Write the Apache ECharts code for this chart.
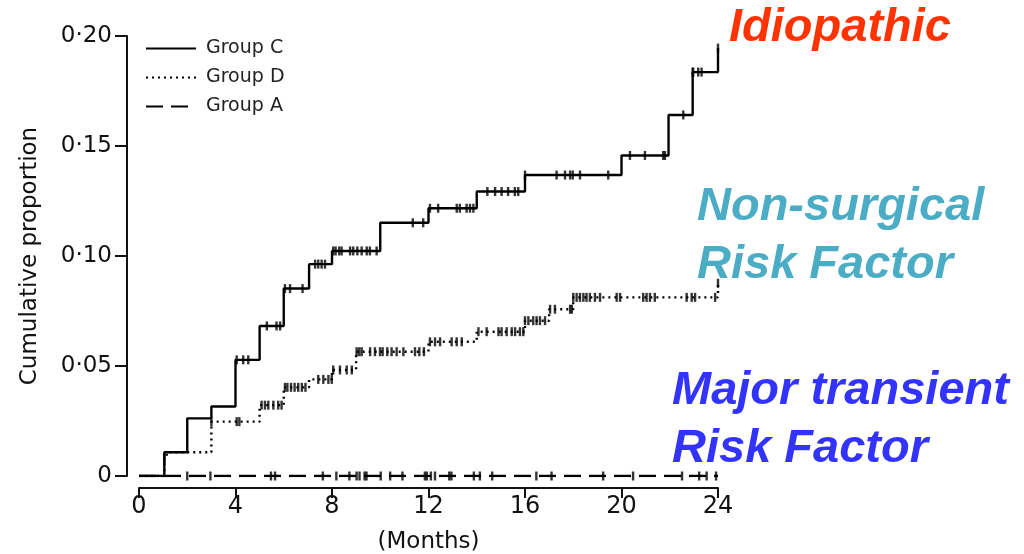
<!DOCTYPE html>
<html>
<head>
<meta charset="utf-8">
<script src="https://cdn.jsdelivr.net/npm/echarts@6/dist/echarts.min.js"></script>
<style>html,body{margin:0;padding:0;background:#fff}#c{width:1024px;height:554px}</style>
</head>
<body>
<div id="c"></div>
<script>
// ---- Data ----
const xTicks = [0, 4, 8, 12, 16, 20, 24];
const yTicks = [0, 0.05, 0.10, 0.15, 0.20];

// Group C (solid) step times and cumulative proportions
const groupC_t = [0, 1.05, 2.0, 3.0, 4.0, 5.0, 6.0, 7.05, 8.0, 10.0, 12.0, 14.0, 16.0, 20.0, 21.95, 22.95, 24.0];
const groupC_v = [0, 0.0108, 0.0262, 0.0316, 0.0528, 0.0682, 0.0852, 0.0963, 0.1023, 0.1151, 0.1217, 0.1293, 0.1368, 0.1457, 0.1641, 0.1836, 0.1945];
// Group D (dotted)
const groupD_t = [0, 1.05, 1.15, 3.0, 5.0, 6.0, 7.05, 8.0, 9.0, 12.0, 14.0, 16.0, 17.0, 18.0, 24.0];
const groupD_v = [0, 0.0080, 0.0108, 0.0247, 0.0322, 0.0403, 0.0439, 0.0482, 0.0565, 0.0610, 0.0656, 0.0706, 0.0758, 0.0812, 0.0876];
// Group A (dashed)
const groupA_t = [0, 24];
const groupA_v = [0, 0];

// Censoring times
const censC = [4.05, 4.32, 4.53, 5.3, 5.7, 5.85, 6.05, 6.26, 6.78, 7.3, 7.43, 7.57, 7.71, 8.05, 8.15, 8.3, 8.4, 8.75, 8.88, 9.05, 9.23, 9.44, 9.57, 9.85, 11.35, 11.78, 12.06, 12.4, 13.17, 13.3, 13.58, 13.72, 13.86, 14.44, 14.76, 15.03, 15.3, 15.58, 15.72, 16.0, 17.31, 17.66, 17.87, 17.98, 18.28, 19.45, 20.35, 20.97, 21.73, 21.8, 22.56, 22.95, 22.97, 23.18, 23.32, 24.0];
const censD = [1.05, 3.0, 4.05, 4.16, 5.08, 5.22, 5.36, 5.57, 5.77, 5.91, 6.05, 6.15, 6.3, 6.45, 6.6, 6.75, 6.9, 7.43, 7.64, 7.85, 7.99, 8.05, 8.33, 8.61, 8.82, 9.02, 9.13, 9.23, 9.58, 9.78, 9.99, 10.1, 10.29, 10.47, 10.68, 10.96, 11.44, 11.62, 11.81, 12.06, 12.27, 12.48, 12.96, 13.17, 13.38, 14.07, 14.41, 14.9, 15.03, 15.24, 15.45, 15.59, 15.79, 15.93, 16.0, 16.14, 16.34, 16.48, 16.62, 16.83, 17.04, 17.24, 17.87, 17.94, 18.0, 18.14, 18.28, 18.42, 18.55, 18.69, 18.9, 19.11, 19.8, 19.94, 20.9, 21.04, 21.18, 21.38, 22.7, 22.91, 23.05, 23.88, 24.0];
const censA = [2.0, 2.96, 5.47, 5.64, 7.62, 8.18, 8.72, 9.02, 9.14, 9.35, 9.43, 10.02, 10.41, 10.92, 11.85, 11.93, 12.1, 12.27, 12.86, 12.95, 13.88, 14.13, 14.64, 16.47, 17.1, 19.24, 20.48, 22.51, 23.22, 23.53, 23.92];

const seriesNames = ['Group C', 'Group D', 'Group A'];

// ---- helpers ----
function pairs(ts, vs) { return ts.map((t, i) => [t, vs[i]]); }
function levelAt(ts, vs, t) {
  let v = vs[0];
  for (let i = 0; i < ts.length; i++) { if (ts[i] <= t + 1e-9) v = vs[i]; }
  return v;
}
function cens(times, ts, vs) { return times.map(t => [t, levelAt(ts, vs, t)]); }

const FONT = '"DejaVu Sans", "Liberation Sans", sans-serif';
const BIG = '"Liberation Sans", Arial, sans-serif';

const chart = echarts.init(document.getElementById('c'), null, { renderer: 'canvas' });

const markStyle = { color: '#000' };
const option = {
  animation: false,
  backgroundColor: '#fff',
  grid: { left: 139, right: 306, top: 36, bottom: 78, containLabel: false, outerBoundsMode: 'none' },
  legend: {
    data: seriesNames,
    orient: 'vertical',
    left: 140,
    top: 34,
    itemWidth: 50,
    itemHeight: 14,
    itemGap: 10,
    itemStyle: { opacity: 0 },
    textStyle: { fontFamily: FONT, fontSize: 19, color: '#222', padding: [0, 0, 0, 5] },
    selectedMode: false
  },
  xAxis: {
    type: 'value', min: 0, max: 24, interval: 4,
    offset: 12,
    name: '(Months)', nameLocation: 'middle', nameGap: 43,
    nameTextStyle: { fontFamily: FONT, fontSize: 23, color: '#111' },
    axisLine: { show: true, onZero: false, lineStyle: { color: '#111', width: 2 } },
    axisTick: { show: true, length: 10, lineStyle: { color: '#111', width: 2 } },
    axisLabel: { fontFamily: FONT, fontSize: 24, color: '#111', margin: 7,
      formatter: v => xTicks.indexOf(v) >= 0 ? String(v) : '' },
    splitLine: { show: false }
  },
  yAxis: {
    type: 'value', min: 0, max: 0.2, interval: 0.05,
    offset: 12,
    name: 'Cumulative proportion', nameLocation: 'middle', nameGap: 85, nameRotate: 90,
    nameTextStyle: { fontFamily: FONT, fontSize: 23, color: '#111' },
    axisLine: { show: true, onZero: false, lineStyle: { color: '#111', width: 2 } },
    axisTick: { show: true, length: 12, lineStyle: { color: '#111', width: 2 } },
    axisLabel: { fontFamily: FONT, fontSize: 23, color: '#111', margin: 15,
      formatter: v => { const k = yTicks.findIndex(y => Math.abs(y - v) < 1e-9); if (k < 0) return ''; return v === 0 ? '0' : v.toFixed(2).replace('.', '\u00B7'); } },
    splitLine: { show: false }
  },
  series: [
    { name: 'Group C', type: 'line', step: 'end', data: pairs(groupC_t, groupC_v), showSymbol: false, symbol: 'none',
      lineStyle: { color: '#000', width: 2.4, type: 'solid' }, itemStyle: { color: '#000' }, z: 3 },
    { name: 'Group D', type: 'line', step: 'end', data: pairs(groupD_t, groupD_v), showSymbol: false, symbol: 'none',
      lineStyle: { color: '#000', width: 2.4, type: [2, 4] }, itemStyle: { color: '#000' }, z: 3 },
    { name: 'Group A', type: 'line', data: pairs(groupA_t, groupA_v), showSymbol: false, symbol: 'none',
      lineStyle: { color: '#000', width: 2.4, type: [17, 8] }, itemStyle: { color: '#000' }, z: 3 },
    { name: 'censC', type: 'scatter', data: cens(censC, groupC_t, groupC_v), symbol: 'rect', symbolSize: [2.4, 9], itemStyle: markStyle, z: 4, silent: true },
    { name: 'censD', type: 'scatter', data: cens(censD, groupD_t, groupD_v), symbol: 'rect', symbolSize: [2.4, 9], itemStyle: markStyle, z: 4, silent: true },
    { name: 'censA', type: 'scatter', data: cens(censA, groupA_t, groupA_v), symbol: 'rect', symbolSize: [2.4, 9], itemStyle: markStyle, z: 4, silent: true }
  ],
  graphic: [
    { type: 'text', left: 729, top: 5, style: { text: 'Idiopathic', font: 'italic bold 47px ' + BIG, fill: '#FF3300' } },
    { type: 'text', left: 697, top: 178, style: { text: 'Non-surgical\nRisk Factor', font: 'italic bold 47px ' + BIG, fill: '#4BACC6', lineHeight: 58 } },
    { type: 'text', left: 672, top: 362, style: { text: 'Major transient\nRisk Factor', font: 'italic bold 47px ' + BIG, fill: '#3333FF', lineHeight: 58 } }
  ]
};
chart.setOption(option);
</script>
</body>
</html>
